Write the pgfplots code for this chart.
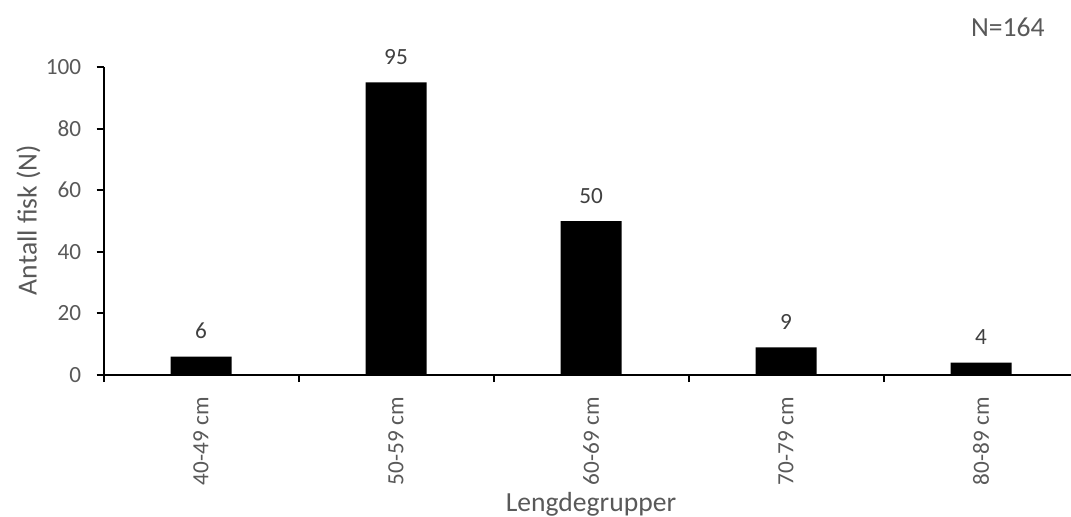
\documentclass[border=0pt]{standalone}
\usepackage{fontspec}
\setmainfont{Carlito}
\usepackage{pgfplots}
\pgfplotsset{compat=1.18}
\definecolor{txt}{HTML}{595959}
\definecolor{lbl}{HTML}{404040}

\begin{document}
\begin{tikzpicture}[x=1pt,y=1pt]
\begin{axis}[
  at={(51.75pt,70.5pt)}, anchor=south west,
  scale only axis, width=483.75pt, height=154pt,
  xmin=-0.5, xmax=4.4615, ymin=0, ymax=100,
  clip=false,
  axis lines*=left,
  axis line style={line width=1pt, black},
  ybar, bar width=30.5pt,
  ytick={0,20,...,100},
  xtick={0,1,2,3,4},
  xticklabels={40-49 cm,50-59 cm,60-69 cm,70-79 cm,80-89 cm},
  xtick style={draw=none},
  extra x ticks={-0.5,0.5,1.5,2.5,3.5},
  extra x tick labels={},
  extra x tick style={xtick style={draw=black, line width=1pt}},
  tick align=outside, major tick length=3.5pt,
  tick style={line width=1pt, black},
  /pgf/number format/assume math mode=true,
  yticklabel style={font=\fontsize{11.6}{14}\selectfont, text=txt, anchor=east, inner sep=0pt, xshift=-7.5pt},
  xticklabel style={font=\fontsize{11.6}{14}\selectfont, text=txt, yshift=-7.5pt, rotate=90, anchor=east, inner sep=0pt},
  every node near coord/.append style={font=\fontsize{11.6}{14}\selectfont, text=lbl, anchor=base, inner sep=0pt, yshift=9pt},
]
\addplot[fill=black, draw=none, nodes near coords] coordinates {(0,6) (1,95) (2,50) (3,9) (4,4)};
\end{axis}
\node[anchor=base, text=txt, font=\fontsize{13.8}{16}\selectfont, inner sep=0pt] at (295.5pt,2.15pt) {Lengdegrupper};
\node[anchor=base, rotate=90, text=txt, font=\fontsize{13.8}{16}\selectfont, inner sep=0pt] at (18.3pt,148pt) {Antall fisk (N)};
\node[anchor=base east, text=txt, font=\fontsize{13.8}{16}\selectfont, inner sep=0pt] at (522.5pt,240pt) {N=164};
\pgfresetboundingbox
\path[use as bounding box] (0,0) rectangle (535.5pt,258pt);
\end{tikzpicture}
\end{document}
